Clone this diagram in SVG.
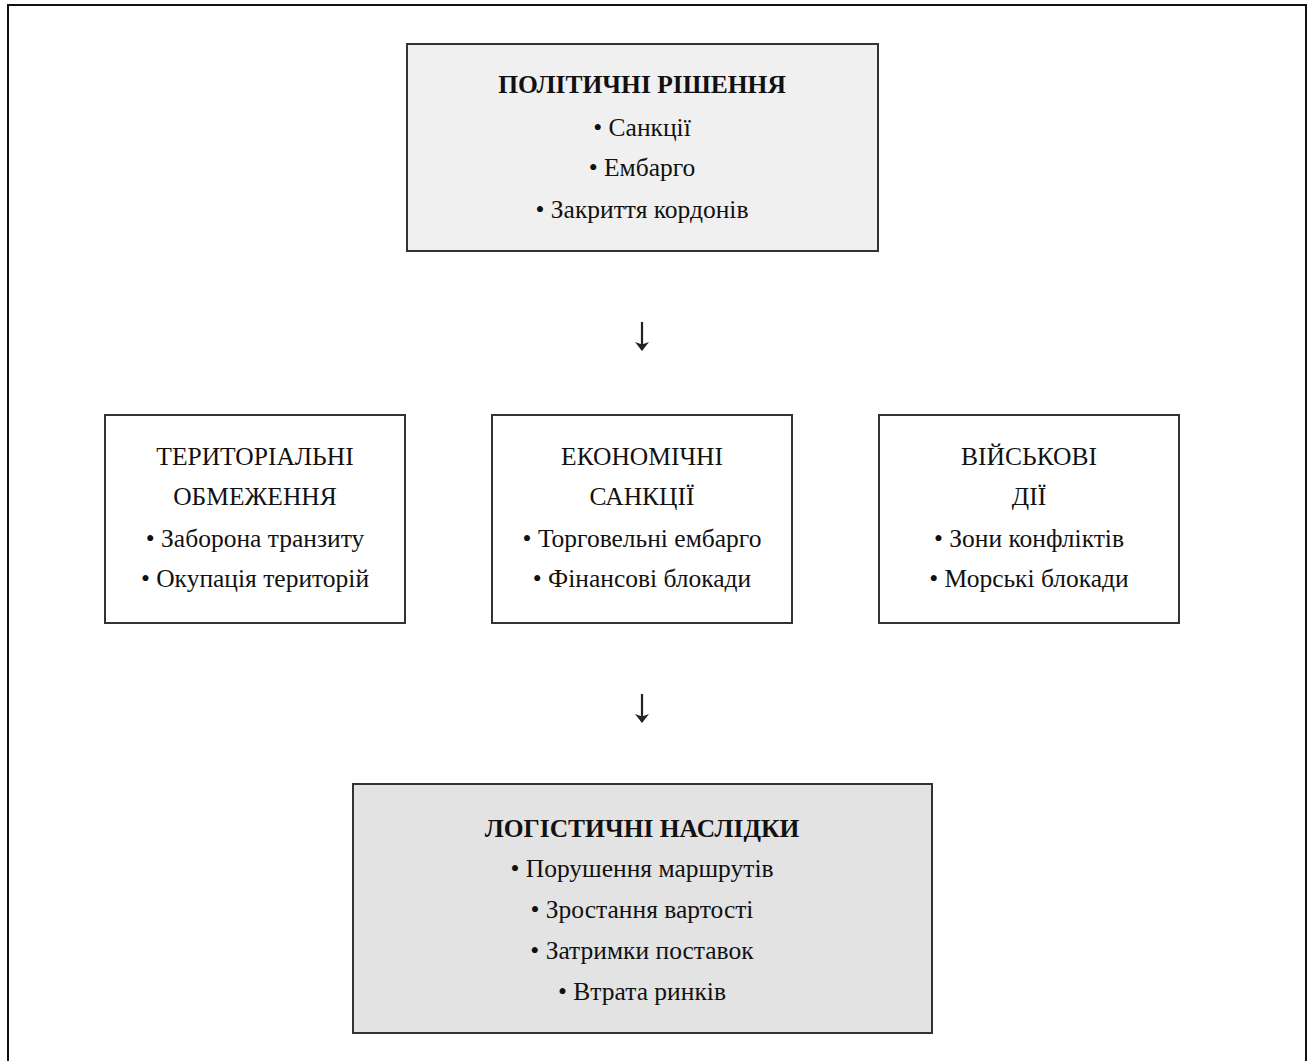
<svg xmlns="http://www.w3.org/2000/svg" width="1308" height="1061" viewBox="0 0 1308 1061">
<style>
.box{stroke:#333;stroke-width:2}
.t{font-family:"Liberation Serif","Times New Roman",serif;font-size:25.5px;fill:#111;text-anchor:middle}
.b{font-weight:bold}
.ar{stroke:#222;stroke-width:2.2;fill:none}
</style>
<defs>
<marker id="ah" viewBox="0 0 9 14" refX="8" refY="7" markerWidth="9" markerHeight="14" markerUnits="userSpaceOnUse" orient="auto">
<path d="M0,0 L9,7 L0,14 L2.5,7 Z" fill="#222"/>
</marker>
</defs>
<rect x="0" y="0" width="1308" height="1061" fill="#fff"/>
<rect x="8" y="5" width="1298" height="1100" fill="none" stroke="#111" stroke-width="2"/>
<g id="politics">
<rect class="box" x="407" y="44" width="471" height="207" fill="#f0f0f0"/>
<text class="t b" x="642" y="93">ПОЛІТИЧНІ РІШЕННЯ</text>
<text class="t" x="642" y="136">• Санкції</text>
<text class="t" x="642" y="176">• Ембарго</text>
<text class="t" x="642" y="218">• Закриття кордонів</text>
</g>
<g id="territorial">
<rect class="box" x="105" y="415" width="300" height="208" fill="#fff"/>
<text class="t" x="255" y="465">ТЕРИТОРІАЛЬНІ</text>
<text class="t" x="255" y="505">ОБМЕЖЕННЯ</text>
<text class="t" x="255" y="547">• Заборона транзиту</text>
<text class="t" x="255" y="587">• Окупація територій</text>
</g>
<g id="economic">
<rect class="box" x="492" y="415" width="300" height="208" fill="#fff"/>
<text class="t" x="642" y="465">ЕКОНОМІЧНІ</text>
<text class="t" x="642" y="505">САНКЦІЇ</text>
<text class="t" x="642" y="547">• Торговельні ембарго</text>
<text class="t" x="642" y="587">• Фінансові блокади</text>
</g>
<g id="military">
<rect class="box" x="879" y="415" width="300" height="208" fill="#fff"/>
<text class="t" x="1029" y="465">ВІЙСЬКОВІ</text>
<text class="t" x="1029" y="505">ДІЇ</text>
<text class="t" x="1029" y="547">• Зони конфліктів</text>
<text class="t" x="1029" y="587">• Морські блокади</text>
</g>
<g id="logistics">
<rect class="box" x="353" y="784" width="579" height="249" fill="#e3e3e3"/>
<text class="t b" x="642" y="837">ЛОГІСТИЧНІ НАСЛІДКИ</text>
<text class="t" x="642" y="877">• Порушення маршрутів</text>
<text class="t" x="642" y="918">• Зростання вартості</text>
<text class="t" x="642" y="959">• Затримки поставок</text>
<text class="t" x="642" y="1000">• Втрата ринків</text>
</g>
<g id="connectors">
<line class="ar" x1="642" y1="322" x2="642" y2="350" marker-end="url(#ah)"/>
<line class="ar" x1="642" y1="694" x2="642" y2="722" marker-end="url(#ah)"/>
</g>
</svg>
